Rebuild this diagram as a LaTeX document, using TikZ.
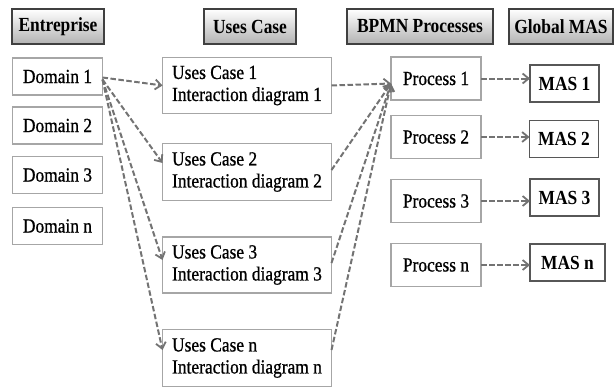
\documentclass[tikz,border=0pt]{standalone}
\usepackage{fontspec}
\setmainfont{Liberation Serif}[FakeStretch=0.87, UprightFeatures={FakeBold=0.8}]
\usetikzlibrary{arrows.meta,calc}

\tikzset{
  every node/.style={inner sep=0pt, outer sep=0pt, font=\fontsize{20}{22}\selectfont},
  header/.style={draw=black!75, line width=1.2pt, top color=white, bottom color=black!30,
    minimum height=35pt, font=\fontsize{20}{22}\selectfont\bfseries},
  item/.style={draw=black!35, line width=1.8pt, fill=white, minimum height=37pt},
  usecase/.style={item, minimum width=169pt, align=left},
  masbox/.style={draw=black!66, line width=1.8pt, fill=white, minimum height=37pt,
    font=\fontsize{20}{22}\selectfont\bfseries},
  flow/.style={draw=black!55, line width=2pt, dash pattern=on 5.5pt off 2.5pt,
    -{Straight Barb[length=6pt,width=10pt,line width=1.8pt]}},
}

\begin{document}
\begin{tikzpicture}[x=1pt,y=-1pt]
\useasboundingbox (0,0) rectangle (616,389);

% column headers
\node[header, minimum width=92pt]  (hent)  at (58,26.5)  {Entreprise};
\node[header, minimum width=92pt]  (huc)   at (250,26.5) {Uses Case};
\node[header, minimum width=146pt] (hbpmn) at (420,26.5) {BPMN Processes};
\node[header, minimum width=104pt] (hmas)  at (561,26.5) {Global MAS};

% enterprise domains
\node[item, minimum width=90pt] (d1) at (57.5,76.5) {Domain 1};
\node[item, minimum width=90pt] (d2) at (57.5,125.5) {Domain 2};
\node[item, minimum width=90pt] (d3) at (57.5,175) {Domain 3};
\node[item, minimum width=90pt] (dn) at (57.5,226) {Domain n};

% use cases
\node[usecase, minimum height=56pt] (uc1) at (247,85.5) {Uses Case 1\\Interaction diagram 1};
\node[usecase, minimum height=57pt] (uc2) at (247,172)  {Uses Case 2\\Interaction diagram 2};
\node[usecase, minimum height=56pt] (uc3) at (247,265)  {Uses Case 3\\Interaction diagram 3};
\node[usecase, minimum height=57pt] (ucn) at (247,358)  {Uses Case n\\Interaction diagram n};

% BPMN processes
\node[item, minimum width=90pt, minimum height=43pt] (p1) at (436,78.5) {Process 1};
\node[item, minimum width=90pt, minimum height=43pt] (p2) at (436,137)  {Process 2};
\node[item, minimum width=90pt, minimum height=43pt] (p3) at (436,201)  {Process 3};
\node[item, minimum width=90pt, minimum height=43pt] (pn) at (436,265)  {Process n};

% multi-agent systems
\node[masbox, minimum width=69pt] (m1) at (564.5,83.5)  {MAS 1};
\node[masbox, minimum width=69pt] (m2) at (564,139)     {MAS 2};
\node[masbox, minimum width=69pt] (m3) at (564.5,197.5) {MAS 3};
\node[masbox, minimum width=75pt] (mn) at (567.5,262.5) {MAS n};

% domain 1 to its use cases
\coordinate (dsrc) at ([yshift=-3pt]d1.east);
\draw[flow] ([yshift=-1pt]d1.east) -- (uc1.west);
\draw[flow] (dsrc) -- ([yshift=9pt]uc2.west);
\draw[flow] (dsrc) -- ([yshift=5pt]uc3.west);
\draw[flow] (dsrc) -- ([yshift=8pt]ucn.west);

% use cases to process 1
\coordinate (pdst) at ([yshift=-5pt]p1.west);
\draw[flow] (uc1.east) -- (pdst);
\draw[flow] ([yshift=2pt]uc2.east) -- (pdst);
\draw[flow] ([yshift=2pt]uc3.east) -- (pdst);
\draw[flow] ([yshift=8pt]ucn.east) -- (pdst);

% processes to agents
\draw[flow] (p1.east) -- (p1.east -| m1.west);
\draw[flow] (p2.east) -- (p2.east -| m2.west);
\draw[flow] (p3.east) -- (p3.east -| m3.west);
\draw[flow] (pn.east) -- (pn.east -| mn.west);
\end{tikzpicture}
\end{document}
